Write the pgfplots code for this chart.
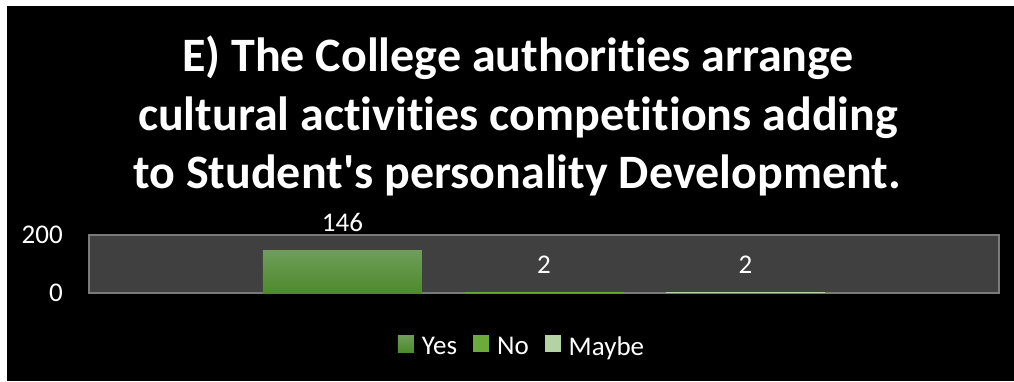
\documentclass[border=0pt]{standalone}
\usepackage{fontspec}
\setmainfont{Carlito}[Ligatures={NoCommon}]
\usepackage{pgfplots}
\pgfplotsset{compat=1.18}
\definecolor{plotbg}{HTML}{404040}
\definecolor{axisgray}{HTML}{7A7A7A}
\definecolor{yestop}{HTML}{6E9D59}
\definecolor{yesbot}{HTML}{4E8A2C}
\definecolor{nocol}{HTML}{6AAB3C}
\definecolor{maybecol}{HTML}{B3D3A4}
\begin{document}
\begin{tikzpicture}[x=1pt,y=1pt]
\fill[white] (0,0) rectangle (1014,381);
\fill[black] (7,0) rectangle (1014,375);
\node[anchor=base, white, inner sep=0pt, font=\fontsize{48}{56}\selectfont\bfseries] at (518,309) {E) The College authorities arrange};
\node[anchor=base, white, inner sep=0pt, font=\fontsize{48}{56}\selectfont\bfseries] at (518,251) {cultural activities competitions adding};
\node[anchor=base, white, inner sep=0pt, font=\fontsize{48}{56}\selectfont\bfseries] at (517,193) {to Student\textquotesingle s personality Development.};
\begin{axis}[
  at={(89pt,88pt)}, anchor=south west,
  scale only axis, width=910pt, height=58pt,
  xmin=-0.258, xmax=4.258, ymin=0, ymax=200,
  ytick={0,200}, xtick=\empty,
  major tick length=0pt,
  axis line style={draw=axisgray, line width=1.2pt},
  axis background/.style={fill=plotbg},
  /pgf/number format/assume math mode=true,
  yticklabel style={text=white, font=\fontsize{27}{32}\selectfont, inner sep=0pt, xshift=-26pt},
  ybar, bar width=159pt, bar shift=0pt,
  clip=false,
  nodes near coords,
  every node near coord/.append style={text=white, font=\fontsize{27}{32}\selectfont, inner sep=0pt, anchor=base, yshift=19pt},
  legend columns=3,
  legend style={at={(0.4758,-0.931)}, anchor=center, draw=none, fill=none, text=white,
    font=\fontsize{27}{32}\selectfont,
    /tikz/every odd column/.append style={column sep=6pt},
    /tikz/every even column/.append style={column sep=14pt}},
  legend image code/.code={\fill[#1] (0pt,-5pt) rectangle (16pt,12pt);},
]
\addplot[draw=none, top color=yestop, bottom color=yesbot] coordinates {(1,146)};
\addlegendentry{Yes}
\addplot[draw=none, fill=nocol] coordinates {(2,2)};
\addlegendentry{No}
\addplot[draw=none, fill=maybecol] coordinates {(3,2)};
\addlegendentry{Maybe}
\end{axis}
\end{tikzpicture}
\end{document}
